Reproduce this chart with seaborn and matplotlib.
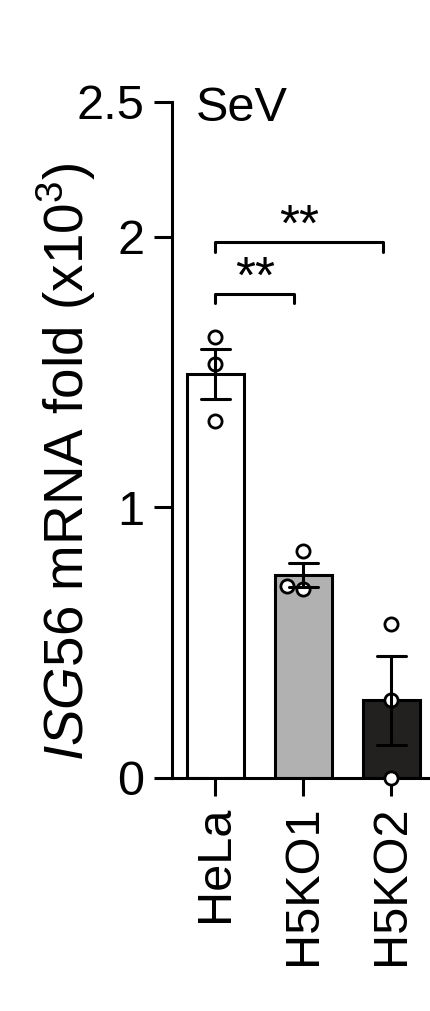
import numpy as np
import pandas as pd
import matplotlib
matplotlib.use("Agg")
import matplotlib.pyplot as plt
import seaborn as sns

# data (x10^3 fold)
cell_lines = ["HeLa", "H5KO1", "H5KO2"]
hela = [1.63, 1.53, 1.32]
h5ko1 = [0.84, 0.70, 0.71]
h5ko2 = [0.57, 0.29, 0.0]
bar_colors = ["white", "#b1b1b1", "#231f20"]
yticks = [0, 1, 2, 2.5]
ytick_labels = ["0", "1", "2", "2.5"]
sig_pairs = [("HeLa", "H5KO1", "**"), ("HeLa", "H5KO2", "**")]

df = pd.DataFrame({
    "line": np.repeat(cell_lines, 3),
    "fold": hela + h5ko1 + h5ko2,
})

sns.set_style("ticks")
plt.rcParams["font.family"] = ["Liberation Sans", "DejaVu Sans"]
plt.rcParams["mathtext.fontset"] = "custom"
plt.rcParams["mathtext.rm"] = "Liberation Sans"
plt.rcParams["mathtext.it"] = "Liberation Sans:italic"
for k in ["text.color", "axes.labelcolor", "xtick.color", "ytick.color", "axes.edgecolor"]:
    plt.rcParams[k] = "black"

lw = 2.2

fig = plt.figure(figsize=(4.31, 10.11), dpi=100)
ax = fig.add_axes([0.399, 0.2305, 0.601, 0.669])

sns.barplot(data=df, x="line", y="fold", hue="line",
            palette=dict(zip(cell_lines, bar_colors)), legend=False,
            errorbar="se", capsize=0.33, width=0.65,
            edgecolor="black", linewidth=lw,
            err_kws={"color": "black", "linewidth": lw, "zorder": 4},
            ax=ax)
sns.swarmplot(data=df, x="line", y="fold", color="white", edgecolor="black",
              linewidth=2.0, size=9.5, zorder=3, clip_on=False, ax=ax)

# significance brackets
for i, (a, b, lab) in enumerate(sig_pairs):
    x1 = cell_lines.index(a)
    x2 = cell_lines.index(b) - 0.1
    y = 1.79 + i * 0.19
    ax.plot([x1, x1, x2, x2], [y - 0.035, y, y, y - 0.035], color="black", lw=lw)
    ax.text((x1 + x2) / 2, y + 0.005, lab, ha="center", va="baseline", fontsize=37)

ax.text(-0.22, 2.43, "SeV", fontsize=35, va="baseline")

ax.set_xlim(-0.49, 2.45)
ax.set_ylim(0, 2.5)
ax.set_yticks(yticks)
ax.set_yticklabels(ytick_labels)
ax.set_xlabel("")
ax.set_ylabel(r"$\mathit{ISG56}$ mRNA fold (x10$^{3}$)", fontsize=39.5)
ax.yaxis.set_label_coords(-0.285, 0.468)
ax.tick_params(length=13, width=lw, labelsize=35, pad=7, color="black")
plt.setp(ax.get_xticklabels(), rotation=90)
sns.despine(ax=ax)
for s in ["left", "bottom"]:
    ax.spines[s].set_linewidth(lw)
    ax.spines[s].set_color("black")

fig.savefig("out.png", dpi=100)
